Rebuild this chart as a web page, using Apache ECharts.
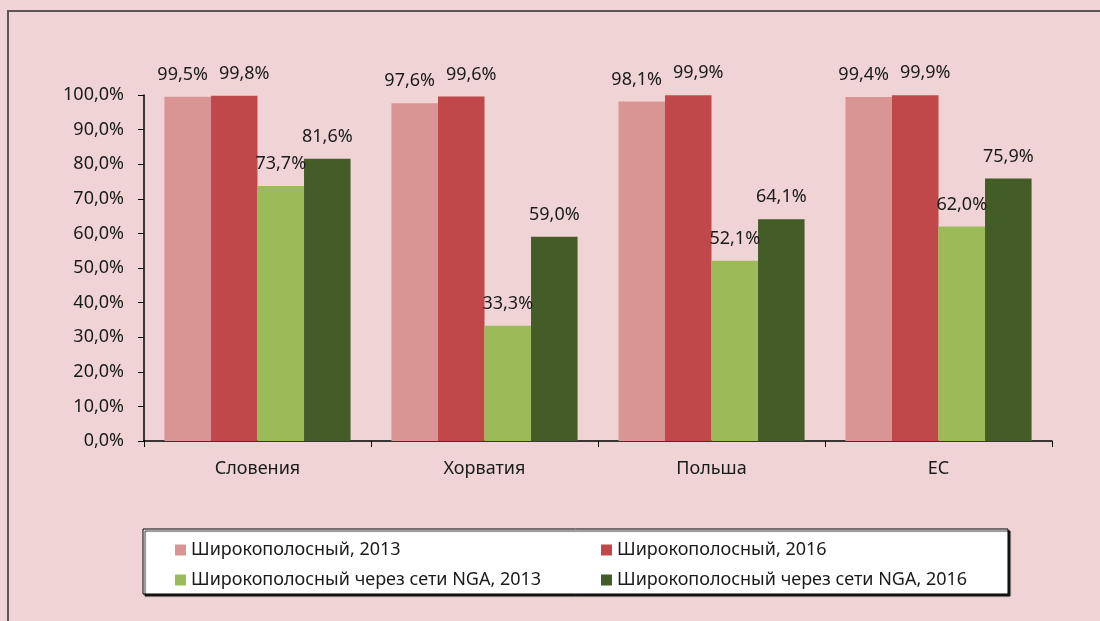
<!DOCTYPE html>
<html>
<head>
<meta charset="utf-8">
<script src="https://cdn.jsdelivr.net/npm/echarts@6/dist/echarts.min.js"></script>
<style>
  html, body { margin: 0; padding: 0; background: #f0d4d5; }
  #chart { width: 1100px; height: 621px; }
</style>
</head>
<body>
<div id="chart"></div>
<script>
const categories = ['Словения', 'Хорватия', 'Польша', 'ЕС'];
const seriesNames = [
  'Широкополосный, 2013',
  'Широкополосный, 2016',
  'Широкополосный через сети NGA, 2013',
  'Широкополосный через сети NGA, 2016'
];
const broadband2013 = [99.5, 97.6, 98.1, 99.4];
const broadband2016 = [99.8, 99.6, 99.9, 99.9];
const nga2013 = [73.7, 33.3, 52.1, 62.0];
const nga2016 = [81.6, 59.0, 64.1, 75.9];
const colors = ['#d99594', '#c0484a', '#9bbb59', '#435c28'];
// small horizontal nudges, like the spread-out labels in the source
const labelShift = [[-5, 0], [10, 0], [0, 0], [0, 0]];

const chart = echarts.init(document.getElementById('chart'));
const font = 'Noto Sans';
const fmt = v => v.toFixed(1).replace('.', ',') + '%';

const values = [broadband2013, broadband2016, nga2013, nga2016];

chart.setOption({
  backgroundColor: '#f0d4d5',
  textStyle: { fontFamily: font },
  animation: false,
  grid: { left: 144, right: 48, top: 95, bottom: 180 },
  graphic: [
    { type: 'rect', shape: { x: 8, y: 11, width: 1200, height: 700 },
      style: { fill: 'none', stroke: '#5e5656', lineWidth: 2 } },
    { type: 'rect', shape: { x: 143, y: 529, width: 865, height: 65 },
      style: { fill: '#fff', stroke: '#000', lineWidth: 1,
               shadowColor: 'rgba(0,0,0,0.85)', shadowOffsetX: 2, shadowOffsetY: 2, shadowBlur: 1 } }
  ],
  legend: [
    { data: [seriesNames[0], seriesNames[2]], orient: 'vertical', left: 170, top: 536,
      itemWidth: 11, itemHeight: 11, itemGap: 12, icon: 'rect',
      textStyle: { fontSize: 18, color: '#1a1a1a', fontFamily: font } },
    { data: [seriesNames[1], seriesNames[3]], orient: 'vertical', left: 596, top: 536,
      itemWidth: 11, itemHeight: 11, itemGap: 12, icon: 'rect',
      textStyle: { fontSize: 18, color: '#1a1a1a', fontFamily: font } }
  ],
  xAxis: {
    type: 'category', data: categories,
    axisLine: { lineStyle: { color: '#000', width: 1.5 } },
    axisTick: { show: true, length: 6, lineStyle: { color: '#000' } },
    axisLabel: { fontSize: 18, color: '#1a1a1a', margin: 19 }
  },
  yAxis: {
    type: 'value', min: 0, max: 100, interval: 10,
    axisLine: { show: true, lineStyle: { color: '#000', width: 1.5 } },
    axisTick: { show: true, length: 6, lineStyle: { color: '#000' } },
    splitLine: { show: false },
    axisLabel: { fontSize: 18, color: '#1a1a1a', margin: 20, formatter: fmt }
  },
  series: values.map((vals, i) => ({
    name: seriesNames[i], type: 'bar', data: vals,
    itemStyle: { color: colors[i] },
    barGap: '0%', barCategoryGap: '18%',
    label: { show: true, position: 'top', distance: 13, fontSize: 18, color: '#1a1a1a',
             offset: labelShift[i], formatter: p => fmt(p.value) }
  }))
});
</script>
</body>
</html>
